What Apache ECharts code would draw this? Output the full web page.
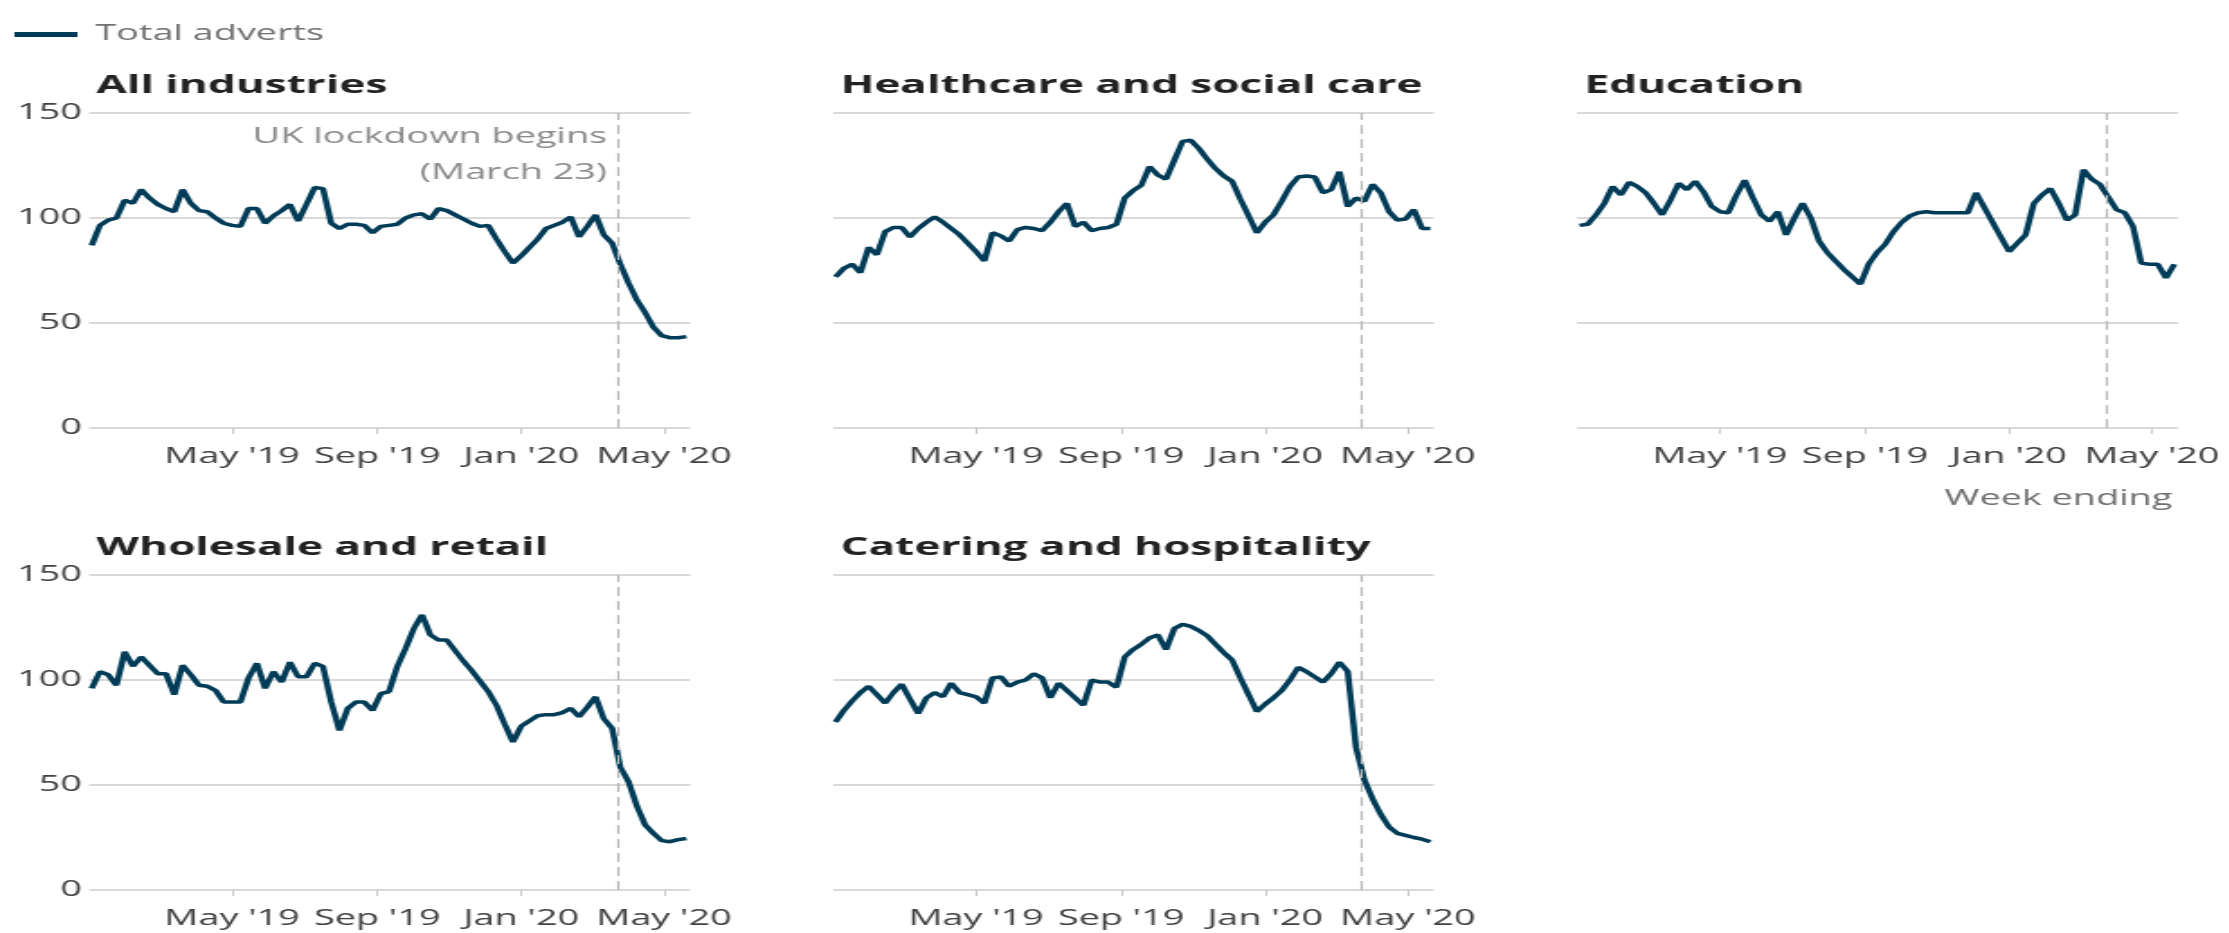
<!DOCTYPE html>
<html>
<head>
<meta charset="utf-8">
<script src="https://cdn.jsdelivr.net/npm/echarts@6/dist/echarts.min.js"></script>
<style>
html, body { margin: 0; padding: 0; background: #fff; overflow: hidden; }
/* the source picture is stretched sideways, so the chart is drawn narrow and widened */
#chart { width: 1238px; height: 933px; transform: scaleX(1.8); transform-origin: 0 0; }
</style>
</head>
<body>
<div id="chart"></div>
<script>
var chart = echarts.init(document.getElementById('chart'), null, { width: 1238, height: 933 });

// weekly index, first week 2 Jan 2019
var firstWeek = '2019-01-02';
var lockdownDate = '2020-03-23';
var tickDates = ['2019-05-01', '2019-09-01', '2020-01-01', '2020-05-01'];
var tickLabels = ["May '19", "Sep '19", "Jan '20", "May '20"];
var yTicks = [0, 50, 100, 150];

var panelNames = ['All industries', 'Healthcare and social care', 'Education', 'Wholesale and retail', 'Catering and hospitality'];

var allIndustries = [87, 96.5, 99, 100, 108.5, 107, 113.5, 109.5, 106.5, 104.5, 103, 113.5, 107, 103.5, 103, 100, 97.5, 96.5, 96, 104.5,
    104.5, 97.5, 101, 103.5, 106.5, 98.5, 106.5, 114.5, 114, 97.5, 95, 97, 97, 96.5, 93, 96, 96.5, 97, 100, 101.5,
    102, 99.5, 104.5, 103.5, 101.5, 99.5, 97.5, 96, 96.5, 90, 84, 78.5, 82, 86, 90, 95, 96.5, 98, 100.5, 91,
    96, 101.5, 92, 88, 78, 69, 61, 55, 48, 44, 43, 43, 43.5];
var healthcare = [72, 76, 78, 74, 86, 82.5, 93.5, 95.5, 95.5, 91, 95, 98, 100.5, 98, 95, 92, 88, 84, 79.5, 93,
    91.5, 89, 94.5, 95.5, 95, 94, 98, 103, 107, 96, 98, 94, 95, 95.5, 97, 109.5, 113, 115.5, 124.5, 120.5,
    118.5, 127.5, 136.5, 137, 133, 128, 123.5, 120, 117.5, 109, 101, 93, 98, 101.5, 108, 115, 119.5, 120, 119.5, 112,
    113.5, 122, 105.5, 109.5, 108, 116, 112, 103, 99, 99.5, 104, 95, 95];
var education = [96.5, 97, 101.5, 107, 115, 111, 117, 115, 112, 107, 101.5, 108.5, 116.5, 113.5, 117.5, 112.5, 105.5, 103, 102.5, 111,
    118, 109.5, 101.5, 98.5, 103, 92, 100, 107, 100, 89, 83.5, 79.5, 75.5, 72, 68.5, 78, 83.5, 87.5, 93.5, 98,
    101, 102.5, 103, 102.5, 102.5, 102.5, 102.5, 102.5, 112, 105, 98, 91, 84, 88, 92, 107, 111, 114, 107, 99,
    101.5, 123, 118.5, 116, 110, 104, 102.5, 96, 78.5, 78, 78, 71.5, 78];
var wholesale = [96, 104, 102.5, 97.5, 113.5, 106.5, 111, 107, 103, 103, 93, 107, 102.5, 97.5, 97, 95, 89.5, 89.5, 89.5, 101,
    108, 96, 104, 99, 108.5, 101.5, 101.5, 108, 106.5, 89.5, 76, 86.5, 89.5, 89.5, 85.5, 93.5, 94.5, 106.5, 115, 124.5,
    131, 121.5, 119, 119, 114, 109, 104.5, 99.5, 94.5, 88, 79, 70.5, 78, 80.5, 83, 83.5, 83.5, 84.5, 86.5, 82.5,
    87, 92, 81.5, 77, 58.5, 51.5, 40, 31, 27, 23.5, 23, 24, 24.5];
var catering = [80, 85.5, 90, 94, 97, 93, 89, 94, 98, 91, 84, 91.5, 94, 92, 98.5, 94, 93, 92, 89, 101,
    101.5, 97, 99, 100, 103, 101, 91.5, 98.5, 95, 91.5, 88, 100, 99, 99, 96.5, 111, 114.5, 117, 120, 121.5,
    114.5, 124.5, 126.5, 125.5, 123.5, 121, 117, 113, 109.5, 101, 93, 85, 88.5, 91.5, 95, 100, 106, 104, 101.5, 99,
    103, 108.5, 104, 68, 52.5, 43.5, 36, 30, 27, 26, 25, 24.2, 23];

var panelData = [allIndustries, healthcare, education, wholesale, catering];

var DAY = 24 * 3600 * 1000;
var weeks = [];
var start = new Date(firstWeek).getTime();
for (var i = 0; i < allIndustries.length; i++)
    weeks.push(start + i * 7 * DAY);

var tickTimes = tickDates.map(function (d) { return new Date(d).getTime(); });
var lockTime = new Date(lockdownDate).getTime();
var axisMin = new Date('2018-12-31').getTime();
var axisMax = new Date('2020-05-23').getTime();

// panel layout (drawing space is 1238 wide before the stretch)
var colLeft = [49.6, 462.9, 876.2];
var rowTop = [113, 575];
var plotW = 333.7, plotH = 315;
var cells = [[0, 0], [1, 0], [2, 0], [0, 1], [1, 1]];

var lineColor = '#003c57';
var font = 'Open Sans';

var grids = [], xAxes = [], yAxes = [], series = [], titles = [];
cells.forEach(function (c, k) {
    grids.push({ left: colLeft[c[0]], top: rowTop[c[1]], width: plotW, height: plotH });
    titles.push({
        text: panelNames[k], left: colLeft[c[0]] - 1, top: rowTop[c[1]] - 44,
        textStyle: { fontFamily: font, fontSize: 24.5, fontWeight: 'bold', color: '#222222' }
    });
    xAxes.push({
        type: 'value', gridIndex: k, min: axisMin, max: axisMax,
        axisLine: { show: false },
        splitLine: { show: false },
        axisTick: { show: true, customValues: tickTimes, length: 6, lineStyle: { color: '#c8c8c8', width: 1 } },
        axisLabel: {
            customValues: tickTimes, fontFamily: font, fontSize: 21, color: '#414042', margin: 19,
            formatter: function (v) {
                var j = tickTimes.indexOf(v);
                return j < 0 ? '' : tickLabels[j];
            }
        }
    });
    yAxes.push({
        type: 'value', gridIndex: k, min: yTicks[0], max: yTicks[yTicks.length - 1], interval: 50,
        axisLine: { show: false },
        axisTick: { show: false },
        axisLabel: { show: c[0] == 0, fontFamily: font, fontSize: 21, color: '#414042', margin: 4 },
        splitLine: { lineStyle: { color: '#d9d9d9', width: 2 } }
    });
    series.push({
        name: 'Total adverts', type: 'line', xAxisIndex: k, yAxisIndex: k,
        data: weeks.map(function (t, i) { return [t, panelData[k][i]]; }),
        showSymbol: false, symbol: 'none',
        lineStyle: { color: lineColor, width: 3.5 },
        itemStyle: { color: lineColor },
        markLine: {
            silent: true, symbol: 'none', label: { show: false },
            lineStyle: { color: '#b5b5b5', type: [9, 5], width: 1.2 },
            data: [{ xAxis: lockTime }]
        }
    });
});

var option = {
    animation: false,
    backgroundColor: '#ffffff',
    title: titles,
    legend: {
        data: ['Total adverts'], left: 3, top: 19, icon: 'rect', itemWidth: 35, itemHeight: 5,
        textStyle: { fontFamily: font, fontSize: 21, color: '#707071', padding: [0, 0, 0, 5] }
    },
    grid: grids,
    xAxis: xAxes,
    yAxis: yAxes,
    series: series
};
chart.setOption(option);

// note next to the lockdown line, and the axis note under Education
var lx = chart.convertToPixel({ xAxisIndex: 0 }, lockTime) - 6;
chart.setOption({
    graphic: [
        { type: 'text', x: lx, y: 137, style: { text: 'UK lockdown begins', fill: '#8a8a8a', font: '21px "Open Sans"', align: 'right', verticalAlign: 'middle' } },
        { type: 'text', x: lx, y: 173, style: { text: '(March 23)', fill: '#8a8a8a', font: '21px "Open Sans"', align: 'right', verticalAlign: 'middle' } },
        { type: 'text', x: colLeft[2] + plotW - 3, y: 499, style: { text: 'Week ending', fill: '#707071', font: '21px "Open Sans"', align: 'right', verticalAlign: 'middle' } }
    ]
});
</script>
</body>
</html>
